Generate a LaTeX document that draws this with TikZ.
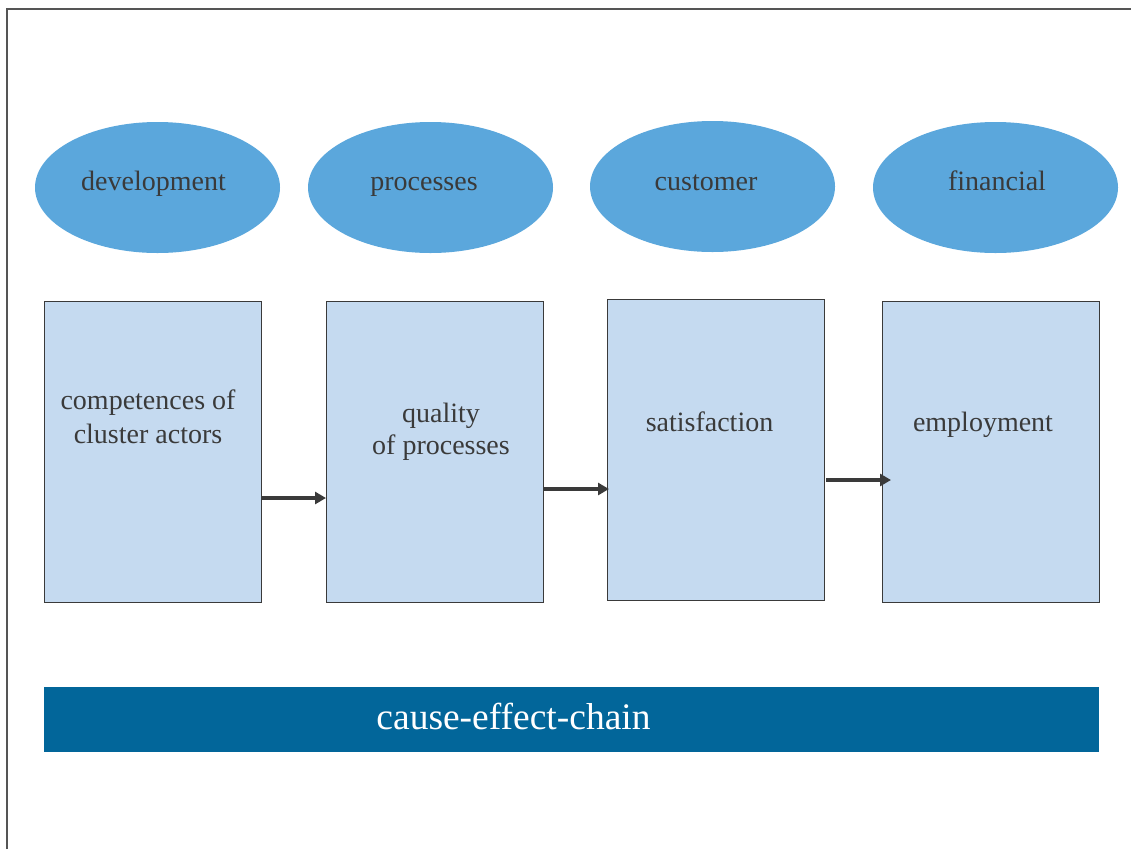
\documentclass[tikz,border=0pt]{standalone}
\usepackage{fontspec}
\setmainfont{Liberation Serif}
\usetikzlibrary{shapes.geometric,arrows.meta}
\definecolor{ellblue}{HTML}{5BA7DC}
\definecolor{boxblue}{HTML}{C5DAF0}
\definecolor{barblue}{HTML}{02669A}
\definecolor{txtgray}{HTML}{3A3A3A}
\definecolor{framegray}{HTML}{555555}
\tikzset{
  cat/.style={ellipse, fill=ellblue, draw=none, minimum width=245pt, minimum height=131pt, inner sep=0pt},
  catlabel/.style={text=txtgray, font=\fontsize{28}{34}\selectfont, inner sep=0pt, anchor=base},
  stage/.style={rectangle, fill=boxblue, draw=txtgray, line width=1pt, minimum width=217pt, minimum height=301pt, inner sep=0pt},
  stagelabel/.style={text=txtgray, font=\fontsize{28}{34}\selectfont, inner sep=0pt, anchor=base},
  flow/.style={draw=txtgray, line width=3.6pt, -{Triangle[length=11pt,width=12pt]}},
}
\begin{document}
\begin{tikzpicture}[x=1pt,y=-1pt]
\useasboundingbox (0,0) rectangle (1131,849);
% frame
\draw[framegray, line width=2pt] (7,849) -- (7,8.5) -- (1131,8.5);
% ellipses
\node[cat] (e1) at (157.5,187.5) {};
\node[cat] (e2) at (430.5,187.5) {};
\node[cat] (e3) at (712.5,186.5) {};
\node[cat] (e4) at (995.5,187.5) {};
\node[catlabel] (t1) at (153.5,190) {development};
\node[catlabel] (t2) at (424,190) {processes};
\node[catlabel] (t3) at (706,190) {customer};
\node[catlabel] (t4) at (997,190) {financial};
% boxes
\node[stage] (b1) at (152.5,451.5) {};
\node[stage] (b2) at (435,451.5) {};
\node[stage] (b3) at (715.5,449.5) {};
\node[stage] (b4) at (990.5,451.5) {};
\node[stagelabel] (l1a) at (148,409) {competences of};
\node[stagelabel] (l1b) at (148,443) {cluster actors};
\node[stagelabel] (l2a) at (441,422) {quality};
\node[stagelabel] (l2b) at (441,454) {of processes};
\node[stagelabel] (l3) at (709.5,431) {satisfaction};
\node[stagelabel] (l4) at (983,431) {employment};
% arrows
\coordinate (a1s) at (b1.east |- 0,498);
\coordinate (a1e) at (b2.west |- 0,498);
\coordinate (a2s) at (b2.east |- 0,489);
\coordinate (a2e) at (609,489);
\coordinate (a3s) at (826,480);
\coordinate (a3e) at (891,480);
\draw[flow] (a1s) -- (a1e);
\draw[flow] (a2s) -- (a2e);
\draw[flow] (a3s) -- (a3e);
% bar
\node[rectangle, fill=barblue, minimum width=1055pt, minimum height=65pt, inner sep=0pt] (bar) at (571.5,719.5) {};
\node[text=white, font=\fontsize{37.5}{42}\selectfont, inner sep=0pt, anchor=base] (bt) at (513.5,729) {cause-effect-chain};
\end{tikzpicture}
\end{document}
